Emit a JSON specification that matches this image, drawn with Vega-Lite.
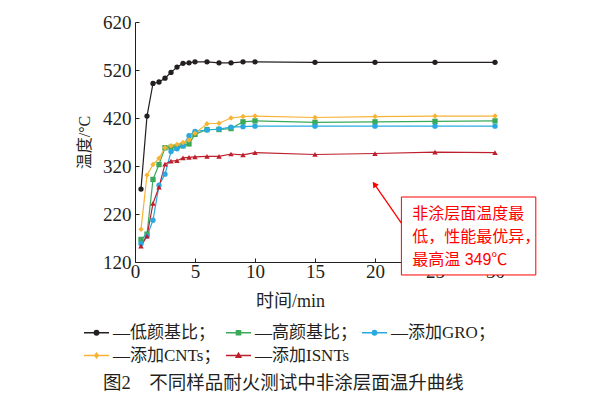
{
  "$schema": "https://vega.github.io/schema/vega-lite/v6.json",
  "width": 360,
  "height": 240,
  "autosize": {"type": "none"},
  "padding": {"left": 135, "top": 22, "right": 110, "bottom": 136},
  "background": "white",
  "title": {
    "text": "图2　不同样品耐火测试中非涂层面温升曲线",
    "orient": "bottom",
    "anchor": "start",
    "frame": "group",
    "dx": -32,
    "offset": 10,
    "baseline": "top",
    "font": "Liberation Serif, Noto Sans CJK SC",
    "fontSize": 18.5,
    "fontWeight": "normal",
    "color": "#231f20"
  },
  "datasets": {
    "temps": [
      {"s": "低颜基比", "t": 0.5, "v": 272}, {"s": "低颜基比", "t": 1, "v": 424}, {"s": "低颜基比", "t": 1.5, "v": 492}, {"s": "低颜基比", "t": 2, "v": 495}, {"s": "低颜基比", "t": 2.5, "v": 503}, {"s": "低颜基比", "t": 3, "v": 515}, {"s": "低颜基比", "t": 3.5, "v": 526}, {"s": "低颜基比", "t": 4, "v": 534}, {"s": "低颜基比", "t": 4.5, "v": 535}, {"s": "低颜基比", "t": 5, "v": 537}, {"s": "低颜基比", "t": 6, "v": 537}, {"s": "低颜基比", "t": 7, "v": 535}, {"s": "低颜基比", "t": 8, "v": 535}, {"s": "低颜基比", "t": 9, "v": 537}, {"s": "低颜基比", "t": 10, "v": 537}, {"s": "低颜基比", "t": 15, "v": 536}, {"s": "低颜基比", "t": 20, "v": 536}, {"s": "低颜基比", "t": 25, "v": 536}, {"s": "低颜基比", "t": 30, "v": 536},
      {"s": "高颜基比", "t": 0.5, "v": 167}, {"s": "高颜基比", "t": 1, "v": 178}, {"s": "高颜基比", "t": 1.5, "v": 292}, {"s": "高颜基比", "t": 2, "v": 323}, {"s": "高颜基比", "t": 2.5, "v": 358}, {"s": "高颜基比", "t": 3, "v": 359}, {"s": "高颜基比", "t": 3.5, "v": 360}, {"s": "高颜基比", "t": 4, "v": 362}, {"s": "高颜基比", "t": 4.5, "v": 366}, {"s": "高颜基比", "t": 5, "v": 386}, {"s": "高颜基比", "t": 6, "v": 396}, {"s": "高颜基比", "t": 7, "v": 396}, {"s": "高颜基比", "t": 8, "v": 398}, {"s": "高颜基比", "t": 9, "v": 412}, {"s": "高颜基比", "t": 10, "v": 414}, {"s": "高颜基比", "t": 15, "v": 411}, {"s": "高颜基比", "t": 20, "v": 412}, {"s": "高颜基比", "t": 25, "v": 413}, {"s": "高颜基比", "t": 30, "v": 414},
      {"s": "添加GRO", "t": 0.5, "v": 158}, {"s": "添加GRO", "t": 1, "v": 174}, {"s": "添加GRO", "t": 1.5, "v": 207}, {"s": "添加GRO", "t": 2, "v": 280}, {"s": "添加GRO", "t": 2.5, "v": 303}, {"s": "添加GRO", "t": 3, "v": 350}, {"s": "添加GRO", "t": 3.5, "v": 356}, {"s": "添加GRO", "t": 4, "v": 362}, {"s": "添加GRO", "t": 4.5, "v": 383}, {"s": "添加GRO", "t": 5, "v": 392}, {"s": "添加GRO", "t": 6, "v": 395}, {"s": "添加GRO", "t": 7, "v": 397}, {"s": "添加GRO", "t": 8, "v": 401}, {"s": "添加GRO", "t": 9, "v": 402}, {"s": "添加GRO", "t": 10, "v": 403}, {"s": "添加GRO", "t": 15, "v": 403}, {"s": "添加GRO", "t": 20, "v": 403}, {"s": "添加GRO", "t": 25, "v": 403}, {"s": "添加GRO", "t": 30, "v": 403},
      {"s": "添加CNTs", "t": 0.5, "v": 188}, {"s": "添加CNTs", "t": 1, "v": 301}, {"s": "添加CNTs", "t": 1.5, "v": 323}, {"s": "添加CNTs", "t": 2, "v": 336}, {"s": "添加CNTs", "t": 2.5, "v": 358}, {"s": "添加CNTs", "t": 3, "v": 362}, {"s": "添加CNTs", "t": 3.5, "v": 365}, {"s": "添加CNTs", "t": 4, "v": 369}, {"s": "添加CNTs", "t": 4.5, "v": 374}, {"s": "添加CNTs", "t": 5, "v": 388}, {"s": "添加CNTs", "t": 6, "v": 408}, {"s": "添加CNTs", "t": 7, "v": 409}, {"s": "添加CNTs", "t": 8, "v": 420}, {"s": "添加CNTs", "t": 9, "v": 423}, {"s": "添加CNTs", "t": 10, "v": 424}, {"s": "添加CNTs", "t": 15, "v": 421}, {"s": "添加CNTs", "t": 20, "v": 423}, {"s": "添加CNTs", "t": 25, "v": 424}, {"s": "添加CNTs", "t": 30, "v": 424},
      {"s": "添加ISNTs", "t": 0.5, "v": 153}, {"s": "添加ISNTs", "t": 1, "v": 174}, {"s": "添加ISNTs", "t": 1.5, "v": 242}, {"s": "添加ISNTs", "t": 2, "v": 276}, {"s": "添加ISNTs", "t": 2.5, "v": 324}, {"s": "添加ISNTs", "t": 3, "v": 330}, {"s": "添加ISNTs", "t": 3.5, "v": 331}, {"s": "添加ISNTs", "t": 4, "v": 337}, {"s": "添加ISNTs", "t": 4.5, "v": 338}, {"s": "添加ISNTs", "t": 5, "v": 339}, {"s": "添加ISNTs", "t": 6, "v": 340}, {"s": "添加ISNTs", "t": 7, "v": 340}, {"s": "添加ISNTs", "t": 8, "v": 345}, {"s": "添加ISNTs", "t": 9, "v": 343}, {"s": "添加ISNTs", "t": 10, "v": 348}, {"s": "添加ISNTs", "t": 15, "v": 344}, {"s": "添加ISNTs", "t": 20, "v": 346}, {"s": "添加ISNTs", "t": 25, "v": 349}, {"s": "添加ISNTs", "t": 30, "v": 348}
    ],
    "note": [{"label": "annotation"}]
  },
  "data": {"name": "temps"},
  "layer": [
    {
      "mark": {"type": "line", "strokeWidth": 1.2},
      "encoding": {
        "x": {"field": "t", "type": "quantitative", "scale": {"domain": [0, 30], "nice": false, "zero": false},
          "axis": {"values": [0, 2.5, 5, 7.5, 10, 12.5, 15, 17.5, 20, 22.5, 25, 27.5, 30], "labelExpr": "datum.value % 5 === 0 ? datum.label : ''", "labelPadding": 4, "title": "时间/min", "titleFontSize": 18, "titleX": 155, "titleY": 30, "titleAlign": "center", "titleBaseline": "top"}},
        "y": {"field": "v", "type": "quantitative", "scale": {"domain": [120, 620], "nice": false, "zero": false},
          "axis": {"values": [120, 170, 220, 270, 320, 370, 420, 470, 520, 570, 620], "labelExpr": "(datum.value - 120) % 100 === 0 ? datum.label : ''", "labelPadding": 8, "title": "温度/°C", "titleFontSize": 16, "titleX": -51, "titleY": 120, "titleAngle": 270, "titleAlign": "center", "titleBaseline": "middle"}},
        "color": {"field": "s", "type": "nominal", "scale": {"domain": ["低颜基比", "高颜基比", "添加GRO", "添加CNTs", "添加ISNTs"], "range": ["#231f20", "#3aaa5a", "#29a9e0", "#f8b335", "#bd1f2d"]}, "legend": null}
      }
    },
    {
      "mark": {"type": "point", "filled": true, "opacity": 1},
      "encoding": {
        "x": {"field": "t", "type": "quantitative"},
        "y": {"field": "v", "type": "quantitative"},
        "color": {"field": "s", "type": "nominal", "legend": null},
        "shape": {"field": "s", "type": "nominal", "scale": {"domain": ["低颜基比", "高颜基比", "添加GRO", "添加CNTs", "添加ISNTs"], "range": ["circle", "square", "circle", "diamond", "triangle-up"]}, "legend": null},
        "size": {"field": "s", "type": "nominal", "scale": {"domain": ["低颜基比", "高颜基比", "添加GRO", "添加CNTs", "添加ISNTs"], "range": [28, 30, 32, 24, 30]}, "legend": null}
      }
    },
    {
      "transform": [{"filter": "false"}],
      "mark": {"type": "point", "filled": true, "opacity": 1, "size": 625, "strokeWidth": 1.3},
      "encoding": {
        "x": {"field": "t", "type": "quantitative"},
        "y": {"field": "v", "type": "quantitative"},
        "fill": {"field": "s", "type": "nominal", "scale": {"domain": ["低颜基比", "高颜基比", "添加GRO", "添加CNTs", "添加ISNTs"], "range": ["#231f20", "#3aaa5a", "#29a9e0", "#f8b335", "#bd1f2d"]},
          "legend": {"title": null, "orient": "none", "legendX": -52, "legendY": 297, "columns": 3, "direction": "horizontal", "columnPadding": 2, "rowPadding": 1, "labelOffset": 3, "symbolSize": 625, "symbolStrokeWidth": 1.3, "labelLimit": 0, "labelExpr": "datum.label == '添加ISNTs' ? '—添加ISNTs' : '—' + datum.label + '；'"}},
        "stroke": {"field": "s", "type": "nominal", "scale": {"domain": ["低颜基比", "高颜基比", "添加GRO", "添加CNTs", "添加ISNTs"], "range": ["#231f20", "#3aaa5a", "#29a9e0", "#f8b335", "#bd1f2d"]},
          "legend": {"title": null, "orient": "none", "legendX": -52, "legendY": 297, "columns": 3, "direction": "horizontal", "columnPadding": 2, "rowPadding": 1, "labelOffset": 3, "symbolSize": 625, "symbolStrokeWidth": 1.3, "labelLimit": 0, "labelExpr": "datum.label == '添加ISNTs' ? '—添加ISNTs' : '—' + datum.label + '；'"}},
        "shape": {"field": "s", "type": "nominal", "scale": {"domain": ["低颜基比", "高颜基比", "添加GRO", "添加CNTs", "添加ISNTs"], "range": [
            "M-1,0H1M0.18,0A0.18,0.18 0 1,1 -0.18,0A0.18,0.18 0 1,1 0.18,0Z",
            "M-1,0H1M-0.17,-0.17H0.17V0.17H-0.17Z",
            "M-1,0H1M0.18,0A0.18,0.18 0 1,1 -0.18,0A0.18,0.18 0 1,1 0.18,0Z",
            "M-1,0H1M0,-0.2L0.15,0L0,0.2L-0.15,0Z",
            "M-1,0H1M0,-0.2L0.2,0.15L-0.2,0.15Z"]},
          "legend": {"title": null, "orient": "none", "legendX": -52, "legendY": 297, "columns": 3, "direction": "horizontal", "columnPadding": 2, "rowPadding": 1, "labelOffset": 3, "symbolSize": 625, "symbolStrokeWidth": 1.3, "labelLimit": 0, "labelExpr": "datum.label == '添加ISNTs' ? '—添加ISNTs' : '—' + datum.label + '；'"}}
      }
    },
    {
      "data": {"name": "note"},
      "mark": {"type": "rect", "fill": "white", "stroke": "#ff0000", "strokeWidth": 1},
      "encoding": {
        "x": {"datum": 22.2, "type": "quantitative"},
        "x2": {"datum": 33.4},
        "y": {"datum": 255.4, "type": "quantitative"},
        "y2": {"datum": 93}
      }
    },
    {
      "data": {"name": "note"},
      "mark": {"type": "rule", "stroke": "#ff0000", "strokeWidth": 1.3},
      "encoding": {
        "x": {"datum": 22.2, "type": "quantitative"},
        "x2": {"datum": 19.95},
        "y": {"datum": 201, "type": "quantitative"},
        "y2": {"datum": 282}
      }
    },
    {
      "data": {"name": "note"},
      "mark": {"type": "point", "shape": "triangle-up", "filled": true, "fill": "#ff0000", "opacity": 1, "size": 45, "angle": 325},
      "encoding": {
        "x": {"datum": 19.95, "type": "quantitative"},
        "y": {"datum": 282, "type": "quantitative"}
      }
    },
    {
      "data": {"name": "note"},
      "mark": {"type": "text", "text": ["非涂层面温度最", "低，性能最优异，", "最高温 349℃"], "align": "left", "baseline": "top", "lineHeight": 23, "fontSize": 16, "font": "Liberation Sans, Noto Sans CJK SC", "color": "#ff0000"},
      "encoding": {
        "x": {"datum": 23.1, "type": "quantitative"},
        "y": {"datum": 237, "type": "quantitative"}
      }
    }
  ],
  "resolve": {"scale": {"shape": "independent", "size": "independent", "fill": "independent", "stroke": "independent"}},
  "config": {
    "view": {"stroke": null},
    "axis": {
      "grid": false,
      "domainColor": "#231f20",
      "tickColor": "#231f20",
      "labelColor": "#231f20",
      "titleColor": "#231f20",
      "labelFont": "Liberation Serif",
      "labelFontSize": 19,
      "titleFont": "Liberation Serif, Noto Sans CJK SC",
      "titleFontWeight": "normal",
      "tickSize": -4,
      "labelFlush": false,
      "labelOverlap": false,
      "domainWidth": 1
    },
    "legend": {
      "labelFont": "Liberation Serif, Noto Sans CJK SC",
      "labelFontSize": 17,
      "labelColor": "#231f20"
    }
  }
}
